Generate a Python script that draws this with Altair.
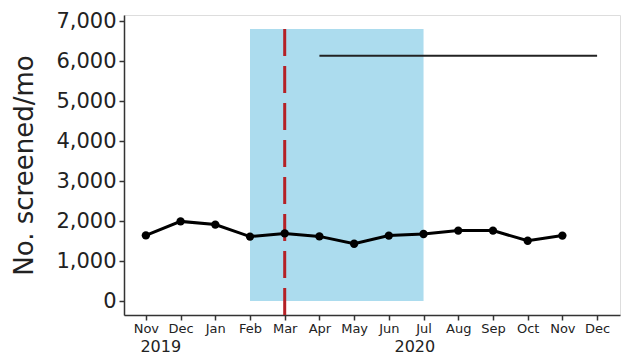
import altair as alt
import pandas as pd

months = ["Nov", "Dec", "Jan", "Feb", "Mar", "Apr", "May", "Jun", "Jul", "Aug", "Sep", "Oct", "Nov", "Dec"]
screened = [1640, 1990, 1910, 1610, 1690, 1615, 1430, 1635, 1675, 1760, 1760, 1505, 1635]
years = ["2019", "2020"]
year_pos = [0.43, 7.75]

df = pd.DataFrame({"idx": list(range(len(screened))), "val": screened})
rect_df = pd.DataFrame({"x": [3], "x2": [8], "y": [0], "y2": [6800]})
vline_df = pd.DataFrame({"x": [4], "y": [-350], "y2": [7000]})
hline_df = pd.DataFrame({"x": [5], "x2": [13], "y": [6130]})
year_df = pd.DataFrame({"x": year_pos, "t": years})

FONT = "DejaVu Sans"
xs = alt.Scale(domain=[-0.63, 13.66], nice=False, zero=False)
ys = alt.Scale(domain=[-350, 7150], nice=False, zero=False)

label_arr = "[" + ",".join('"%s"' % m for m in months) + "]"

xaxis = alt.Axis(values=list(range(len(months))), labelExpr=label_arr + "[datum.value]",
                 title=None, grid=False, domainColor="#333", tickColor="#333",
                 domainWidth=1.5, tickWidth=1.5, tickSize=5, labelFontSize=13,
                 labelFont=FONT, labelColor="#222", labelPadding=2, labelFlush=False,
                 labelOverlap=False)
yaxis = alt.Axis(values=[0, 1000, 2000, 3000, 4000, 5000, 6000, 7000], format=",d",
                 title="No. screened/mo", titleFontSize=26, titleFont=FONT,
                 titleFontWeight="normal", titleColor="#222", titlePadding=18,
                 grid=False, domainColor="#333", tickColor="#333", domainWidth=1.5,
                 tickWidth=1.5, tickSize=5, labelFontSize=21, labelFont=FONT,
                 labelColor="#222", labelPadding=3, labelOverlap=False)


def X(field):
    return alt.X(field, scale=xs, axis=xaxis)


def Y(field):
    return alt.Y(field, scale=ys, axis=yaxis)


base = alt.Chart(df)

rect = alt.Chart(rect_df).mark_rect(color="#acdcee", opacity=1).encode(
    x=X("x:Q"), x2="x2:Q", y=Y("y:Q"), y2="y2:Q")

vline = alt.Chart(vline_df).mark_rule(color="#b52126", strokeWidth=3, strokeDash=[27, 10]).encode(
    x=X("x:Q"), y=Y("y:Q"), y2="y2:Q")

hline = alt.Chart(hline_df).mark_rule(color="#222222", strokeWidth=2).encode(
    x=X("x:Q"), x2="x2:Q", y=Y("y:Q"))

line = base.mark_line(color="black", strokeWidth=3).encode(x=X("idx:Q"), y=Y("val:Q"))

pts = base.mark_circle(color="black", size=70, opacity=1).encode(x=X("idx:Q"), y=Y("val:Q"))

yr = alt.Chart(year_df).mark_text(fontSize=16, font=FONT, color="#222", baseline="alphabetic").encode(
    x=X("x:Q"), y=alt.value(337), text="t:N")

chart = alt.layer(rect, vline, hline, line, pts, yr).properties(
    width=496, height=300,
    autosize=alt.AutoSizeParams(type="none"),
    padding={"left": 116, "top": 7, "right": 3, "bottom": 42},
).configure_view(stroke=None).configure(background="white")

chart.save("out.html", embed_options={"renderer": "svg", "actions": False})
